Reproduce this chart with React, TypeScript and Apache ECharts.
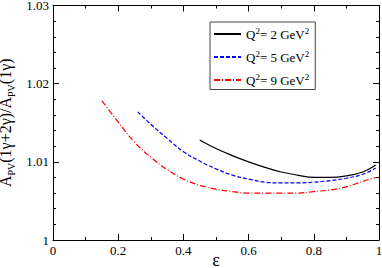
import React, { useEffect, useRef } from "react";
import * as echarts from "echarts";

const epsQ2 = [0.45, 0.5, 0.55, 0.6, 0.65, 0.7, 0.75, 0.8, 0.85, 0.9, 0.95, 0.99];
const valQ2 = [1.0128, 1.0117, 1.0108, 1.01, 1.0093, 1.0087, 1.0083, 1.008, 1.008, 1.0082, 1.0087, 1.0096];

const epsQ5 = [0.26, 0.3, 0.35, 0.4, 0.45, 0.5, 0.55, 0.6, 0.65, 0.7, 0.75, 0.8, 0.85, 0.9, 0.95, 0.99];
const valQ5 = [1.0164, 1.0148, 1.013, 1.0113, 1.0101, 1.0091, 1.0083, 1.0078, 1.0074, 1.0073, 1.0073, 1.0074, 1.0076, 1.0079, 1.0084, 1.0092];

const epsQ9 = [0.15, 0.2, 0.25, 0.3, 0.35, 0.4, 0.45, 0.5, 0.55, 0.6, 0.65, 0.7, 0.75, 0.8, 0.85, 0.9, 0.95, 0.99];
const valQ9 = [1.0178, 1.0151, 1.0125, 1.0106, 1.009, 1.0078, 1.007, 1.0065, 1.0062, 1.006, 1.006, 1.006, 1.006, 1.0062, 1.0064, 1.0068, 1.0075, 1.008];

const seriesNames = ["Q2 = 2 GeV2", "Q2 = 5 GeV2", "Q2 = 9 GeV2"];
const q2Values = ["2", "5", "9"];
const seriesColors = ["#000000", "#0000ff", "#ff0000"];

const FONT = "Liberation Serif";

export default function App() {
  const ref = useRef<HTMLDivElement>(null);
  useEffect(() => {
    if (!ref.current) return;
    const chart = echarts.init(ref.current, null, { renderer: "svg" });
    const pairs = (xs: number[], ys: number[]) => xs.map((x, i) => [x, ys[i]]);
    const datasets = [pairs(epsQ2, valQ2), pairs(epsQ5, valQ5), pairs(epsQ9, valQ9)];
    const lineTypes: any[] = ["solid", [4, 2], [6, 2, 1, 2]];

    const axisCommon = {
      axisLine: { show: true, onZero: false, lineStyle: { color: "#000", width: 1 } },
      axisTick: { show: true, inside: true, length: 6, lineStyle: { color: "#000" } },
      minorTick: { show: true, length: 3, lineStyle: { color: "#000" } },
      splitLine: { show: false },
    };

    chart.setOption({
      animation: false,
      textStyle: { fontFamily: FONT },
      grid: { left: 53, right: 3, top: 5.5, bottom: 28, outerBoundsMode: "none", containLabel: false },
      legend: {
        orient: "vertical",
        left: 210,
        top: 22,
        width: 104,
        padding: [4, 6, 3, 3],
        itemWidth: 27,
        itemHeight: 14,
        itemGap: 8.5,
        backgroundColor: "#fff",
        borderColor: "#444",
        borderWidth: 1,
        itemStyle: { opacity: 0 },
        data: seriesNames,
        formatter: (name: string) => {
          const i = seriesNames.indexOf(name);
          return "{n|Q}{s|2}{n|= " + q2Values[i] + " GeV}{s|2}";
        },
        textStyle: {
          fontFamily: FONT,
          color: "#000",
          rich: {
            n: { fontFamily: FONT, fontSize: 13, lineHeight: 16, color: "#000" },
            s: { fontFamily: FONT, fontSize: 9, lineHeight: 9, verticalAlign: "top", color: "#000" },
          },
        },
      },
      xAxis: [
        {
          type: "value",
          min: 0,
          max: 1,
          interval: 0.2,
          position: "bottom",
          ...axisCommon,
          minorTick: { ...axisCommon.minorTick, splitNumber: 2 },
          axisLabel: {
            fontFamily: FONT,
            fontSize: 13,
            color: "#000",
            margin: 4,
            formatter: (v: number) => (v === 0 || v === 1 ? String(v) : v.toFixed(1)),
          },
          name: "ε",
          nameLocation: "middle",
          nameGap: 13,
          nameMoveOverlap: false,
          nameTextStyle: { fontFamily: FONT, fontSize: 18, lineHeight: 14, color: "#000", verticalAlign: "top" },
        },
        {
          type: "value",
          min: 0,
          max: 1,
          interval: 0.2,
          position: "top",
          ...axisCommon,
          minorTick: { ...axisCommon.minorTick, splitNumber: 2 },
          axisLabel: { show: false },
        },
      ],
      yAxis: [
        {
          type: "value",
          min: 1,
          max: 1.03,
          interval: 0.01,
          position: "left",
          ...axisCommon,
          minorTick: { ...axisCommon.minorTick, splitNumber: 5 },
          axisLabel: {
            fontFamily: FONT,
            fontSize: 13,
            color: "#000",
            margin: 4,
            formatter: (v: number) => (Math.abs(v - 1) < 1e-9 ? "1" : v.toFixed(2)),
          },
          name: "{m|A}{b|PV}{m|(1γ+2γ)/A}{b|PV}{m|(1γ)}",
          nameLocation: "middle",
          nameGap: 37,
          nameMoveOverlap: false,
          nameTextStyle: {
            fontFamily: FONT,
            color: "#000",
            rich: {
              m: { fontFamily: FONT, fontSize: 16, lineHeight: 22, color: "#000" },
              b: { fontFamily: FONT, fontSize: 10, lineHeight: 7, verticalAlign: "bottom", color: "#000" },
            },
          },
        },
        {
          type: "value",
          min: 1,
          max: 1.03,
          interval: 0.01,
          position: "right",
          ...axisCommon,
          minorTick: { ...axisCommon.minorTick, splitNumber: 5 },
          axisLabel: { show: false },
        },
      ],
      series: datasets.map((d, i) => ({
        name: seriesNames[i],
        type: "line",
        xAxisIndex: 0,
        yAxisIndex: 0,
        data: d,
        smooth: 0.4,
        showSymbol: false,
        symbol: "none",
        lineStyle: { color: seriesColors[i], width: 1.2, type: lineTypes[i] },
        itemStyle: { color: seriesColors[i] },
      })),
    });
    return () => chart.dispose();
  }, []);
  return (
    <div
      ref={ref}
      style={{ position: "fixed", left: 0, top: 0, width: 382, height: 268, background: "#fff" }}
    />
  );
}
